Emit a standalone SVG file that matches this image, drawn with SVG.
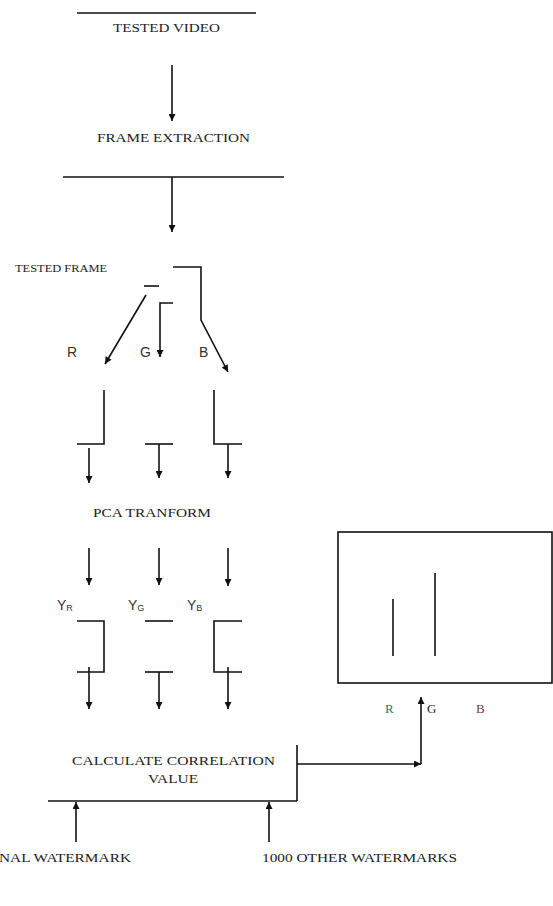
<svg xmlns="http://www.w3.org/2000/svg" width="553" height="906" viewBox="0 0 553 906">
<defs>
<marker id="ah" viewBox="0 0 10 10" refX="10" refY="5" markerWidth="9" markerHeight="7" orient="auto" markerUnits="userSpaceOnUse">
<path d="M0,0 L10,5 L0,10 Z" fill="#111"/>
</marker>
<style>
.ln{stroke:#111;stroke-width:1.6;fill:none}
.ar{stroke:#111;stroke-width:1.6;fill:none;marker-end:url(#ah)}
.t{font-family:"Liberation Serif","Times New Roman",serif;font-size:13px;fill:#222}
.s{font-family:"Liberation Sans",Arial,sans-serif;font-size:14px;fill:#333}
</style>
</defs>
<rect width="553" height="906" fill="#fff"/>
<g id="tested-video">
<line class="ln" x1="77" y1="13" x2="256" y2="13"/>
<text class="t" x="113" y="32" textLength="107" lengthAdjust="spacingAndGlyphs">TESTED VIDEO</text>
</g>
<g id="frame-extraction">
<text class="t" x="97" y="142" textLength="153" lengthAdjust="spacingAndGlyphs">FRAME EXTRACTION</text>
<line class="ln" x1="63" y1="177" x2="284" y2="177"/>
</g>
<g id="tested-frame">
<text class="t" x="15" y="272" font-size="11" style="font-size:11px" textLength="92" lengthAdjust="spacingAndGlyphs">TESTED FRAME</text>
</g>
<g id="rgb-labels">
<text class="s" x="67" y="357">R</text>
<text class="s" x="140" y="357">G</text>
<text class="s" x="199" y="357">B</text>
</g>
<g id="pca-transform">
<text class="t" x="93" y="517" textLength="118" lengthAdjust="spacingAndGlyphs">PCA TRANFORM</text>
</g>
<g id="y-labels">
<text class="s" x="57" y="610">Y<tspan style="font-size:9px" dy="1">R</tspan></text>
<text class="s" x="128" y="610">Y<tspan style="font-size:9px" dy="1">G</tspan></text>
<text class="s" x="187" y="610">Y<tspan style="font-size:9px" dy="1">B</tspan></text>
</g>
<g id="calculate-correlation">
<text class="t" x="72" y="765" textLength="203" lengthAdjust="spacingAndGlyphs">CALCULATE CORRELATION</text>
<text class="t" x="148" y="783" textLength="50" lengthAdjust="spacingAndGlyphs">VALUE</text>
<line class="ln" x1="48" y1="801" x2="297" y2="801"/>
<line class="ln" x1="297" y1="745" x2="297" y2="801"/>
</g>
<g id="original-watermark">
<text class="t" x="-1" y="862" textLength="132" lengthAdjust="spacingAndGlyphs">NAL WATERMARK</text>
</g>
<g id="other-watermarks">
<text class="t" x="262" y="862" textLength="195" lengthAdjust="spacingAndGlyphs">1000 OTHER WATERMARKS</text>
</g>
<g id="chart">
<rect x="338" y="532" width="214" height="151" fill="none" stroke="#111" stroke-width="1.6"/>
<line class="ln" x1="393" y1="599" x2="393" y2="656"/>
<line class="ln" x1="435" y1="573" x2="435" y2="656"/>
<text class="t" x="385" y="713" style="fill:#2f7a68">R</text>
<text class="t" x="427" y="713">G</text>
<text class="t" x="476" y="713" style="fill:#7a3050">B</text>
</g>
<g id="connectors">
<line class="ar" x1="172" y1="65" x2="172" y2="121"/>
<line class="ar" x1="172" y1="177" x2="172" y2="232"/>
<polyline class="ar" points="173,267 201,267 201,320 228,372"/>
<line class="ln" x1="144" y1="286" x2="159" y2="286"/>
<line class="ar" x1="146" y1="295" x2="105" y2="364"/>
<polyline class="ar" points="173,303 160,303 160,357"/>
<polyline class="ln" points="104,390 104,444 77,444"/>
<line class="ln" x1="145" y1="444" x2="173" y2="444"/>
<polyline class="ln" points="214,390 214,444 242,444"/>
<line class="ar" x1="89" y1="448" x2="89" y2="483"/>
<line class="ar" x1="159" y1="444" x2="159" y2="478"/>
<line class="ar" x1="228" y1="444" x2="228" y2="478"/>
<line class="ar" x1="89" y1="548" x2="89" y2="585"/>
<line class="ar" x1="159" y1="548" x2="159" y2="585"/>
<line class="ar" x1="228" y1="548" x2="228" y2="586"/>
<polyline class="ln" points="77,621 104,621 104,672 77,672"/>
<line class="ln" x1="145" y1="621" x2="173" y2="621"/>
<line class="ln" x1="145" y1="672" x2="173" y2="672"/>
<polyline class="ln" points="242,621 214,621 214,672 242,672"/>
<line class="ar" x1="89" y1="667" x2="89" y2="709"/>
<line class="ar" x1="159" y1="672" x2="159" y2="709"/>
<line class="ar" x1="228" y1="667" x2="228" y2="709"/>
<line class="ar" x1="297" y1="764" x2="421" y2="764"/>
<line class="ar" x1="421" y1="764" x2="421" y2="697"/>
<line class="ar" x1="76" y1="842" x2="76" y2="802"/>
<line class="ar" x1="269" y1="842" x2="269" y2="802"/>
</g>
</svg>
